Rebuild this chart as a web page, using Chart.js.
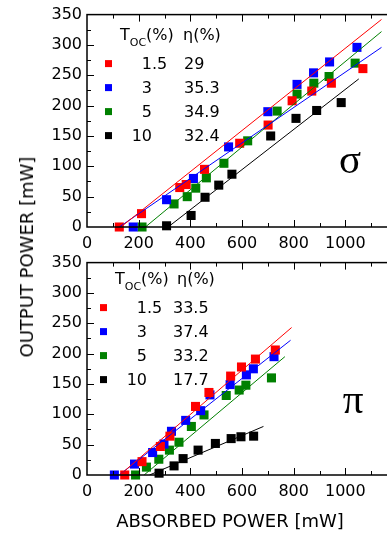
<!DOCTYPE html>
<html>
<head>
<meta charset="utf-8">
<script src="https://cdn.jsdelivr.net/npm/chart.js@4.4.1/dist/chart.umd.min.js"></script>
<style>
    body { margin: 0; width: 387px; height: 536px; overflow: hidden; background: #fff; position: relative; font-family: "DejaVu Sans", sans-serif; }
    canvas { position: absolute; left: 0; }
    #sigma { top: 0; }
    #pi { top: 248px; }
    .axis-title { position: absolute; font-size: 18px; line-height: 1; white-space: nowrap; color: #000; transform: translate(-50%, -50%); }
    #ytitle { left: 27px; top: 257px; transform: translate(-50%, -50%) rotate(-90deg); }
    #xtitle { left: 230px; top: 521px; }
</style>
</head>
<body>
<canvas id="sigma" width="404" height="255"></canvas>
<canvas id="pi" width="404" height="288"></canvas>
<div class="axis-title" id="ytitle">OUTPUT POWER [mW]</div>
<div class="axis-title" id="xtitle">ABSORBED POWER [mW]</div>
<script>
// measured points [absorbed mW, output mW]
const sigmaRed   = [[125,0],[211,22],[359,65],[384,70],[455,95],[591,138],[701,168],[794,208],[870,224],[946,237],[1068,261]];
const sigmaBlue  = [[179,0],[308,45],[412,80],[548,132],[700,190],[813,235],[877,254],[939,272],[1045,296]];
const sigmaGreen = [[213,0],[337,38],[388,50],[421,64],[462,81],[530,105],[622,142],[736,191],[813,219],[878,237],[937,248],[1038,270]];
const sigmaBlack = [[308,2],[403,19],[457,49],[510,69],[561,87],[711,150],[809,179],[889,192],[984,205]];

const piRed   = [[146,0],[213,22],[284,47],[321,64],[420,113],[472,136],[556,163],[598,178],[652,191],[729,206]];
const piBlue  = [[106,0],[184,18],[254,37],[298,51],[327,72],[382,90],[440,106],[476,132],[554,149],[617,165],[644,175],[724,195]];
const piGreen = [[188,0],[230,13],[278,26],[319,41],[356,54],[404,80],[453,99],[539,131],[589,140],[615,148],[714,160]];
const piBlack = [[279,3],[337,15],[372,27],[430,41],[497,52],[558,60],[596,63],[645,64]];

// linear fits, start and end point
const sigmaFitRed   = [[131,0],[1140,342]];
const sigmaFitBlue  = [[125,0],[1140,296]];
const sigmaFitGreen = [[226,0],[1140,322]];
const sigmaFitBlack = [[314,0],[1052,244]];

const piFitRed   = [[127,0],[792,243]];
const piFitBlue  = [[125,0],[788,222]];
const piFitGreen = [[221,0],[766,195]];
const piFitBlack = [[242,0],[683,80]];

const tocValues = ['1.5', '3', '5', '10'];
const sigmaEta  = ['29', '35.3', '34.9', '32.4'];
const piEta     = ['33.5', '37.4', '33.2', '17.7'];
const colors    = ['#ff0000', '#0000ff', '#008000', '#000000'];

const xTicks = [0, 200, 400, 600, 800, 1000];
const yTicks = [0, 50, 100, 150, 200, 250, 300, 350];

const FONT = 'DejaVu Sans';

function toXY(pts) {
    return pts.map(p => ({ x: p[0], y: p[1] }));
}

function makeDatasets(series, fits) {
    const ds = [];
    fits.forEach((f, i) => {
        ds.push({
            data: toXY(f),
            showLine: true,
            borderColor: colors[i],
            borderWidth: 1,
            pointRadius: 0,
        });
    });
    series.forEach((pts, i) => {
        ds.push({
            data: toXY(pts),
            backgroundColor: colors[i],
            pointStyle: 'rect',
            pointRadius: 6.4,
            borderWidth: 0,
            clip: false,
        });
    });
    return ds;
}

// frame with inward ticks on all sides
const frame = {
    id: 'frame',
    afterDatasetsDraw(chart) {
        const { ctx, chartArea: a, scales: { x, y } } = chart;
        ctx.save();
        ctx.strokeStyle = '#000';
        ctx.lineWidth = 1.5;
        ctx.strokeRect(a.left, a.top, a.right - a.left, a.bottom - a.top);
        ctx.lineWidth = 1;
        ctx.beginPath();
        for (let v = 100; v <= 1200; v += 100) {
            const px = Math.round(x.getPixelForValue(v)) + 0.5;
            const len = v % 200 ? 4 : 7;
            ctx.moveTo(px, a.bottom); ctx.lineTo(px, a.bottom - len);
            ctx.moveTo(px, a.top); ctx.lineTo(px, a.top + len);
        }
        for (let v = 25; v < 350; v += 25) {
            const py = Math.round(y.getPixelForValue(v)) + 0.5;
            const len = v % 50 ? 4 : 7;
            ctx.moveTo(a.left, py); ctx.lineTo(a.left + len, py);
            ctx.moveTo(a.right, py); ctx.lineTo(a.right - len, py);
        }
        ctx.stroke();
        ctx.restore();
    }
};

// T_oc / eta table inside the plot, plus the polarisation letter
const table = {
    id: 'table',
    afterDraw(chart, args, o) {
        const { ctx, chartArea: a } = chart;
        ctx.save();
        ctx.fillStyle = '#000';
        ctx.textBaseline = 'alphabetic';
        // header
        let hx = a.left + o.tx;
        const hy = a.top + o.hy;
        ctx.font = '16px "' + FONT + '"';
        ctx.textAlign = 'left';
        ctx.fillText('T', hx, hy);
        hx += ctx.measureText('T').width;
        ctx.font = '11px "' + FONT + '"';
        ctx.fillText('OC', hx, hy + 6);
        hx += ctx.measureText('OC').width;
        ctx.font = '16px "' + FONT + '"';
        ctx.fillText('(%)', hx, hy);
        ctx.fillText('\u03b7(%)', a.left + o.etaHead, hy);
        // rows
        tocValues.forEach((t, i) => {
            const by = a.top + o.row0 + i * 24;
            ctx.fillStyle = colors[i];
            ctx.fillRect(a.left + o.mx - 3.5, by - 9, 7, 7);
            ctx.fillStyle = '#000';
            const parts = t.split('.');
            const ix = a.left + o.intRight;
            ctx.textAlign = 'right';
            ctx.fillText(parts[0], ix, by);
            ctx.textAlign = 'left';
            if (parts[1]) ctx.fillText('.' + parts[1], ix, by);
            ctx.fillText(o.eta[i], a.left + o.etaX, by);
        });
        // sigma / pi
        ctx.font = '41px "Liberation Serif"';
        ctx.textAlign = 'center';
        ctx.fillText(o.letter, a.left + o.lx, a.top + o.ly);
        ctx.restore();
    }
};

function makeChart(id, datasets, xAxisHeight, tableOpts) {
    return new Chart(document.getElementById(id), {
        type: 'scatter',
        data: { datasets: datasets },
        options: {
            responsive: false,
            animation: false,
            layout: { padding: { top: 12, left: 0, right: 0, bottom: 0 }, autoPadding: false },
            plugins: {
                legend: { display: false },
                tooltip: { enabled: false },
                table: tableOpts,
            },
            scales: {
                x: {
                    type: 'linear',
                    min: 0,
                    max: 1200,
                    afterBuildTicks: s => { s.ticks = xTicks.concat([1200]).map(v => ({ value: v })); },
                    afterFit: s => { s.height = xAxisHeight; },
                    grid: { display: false, drawTicks: false },
                    border: { display: false },
                    ticks: {
                        color: '#000',
                        padding: 7,
                        maxRotation: 0,
                        autoSkip: false,
                        font: { family: FONT, size: 16 },
                        callback: v => (v <= 1000 ? v : ''),
                    },
                },
                y: {
                    min: 0,
                    max: 350,
                    afterBuildTicks: s => { s.ticks = yTicks.map(v => ({ value: v })); },
                    afterFit: s => { s.width = 87; },
                    grid: { display: false, drawTicks: false },
                    border: { display: false },
                    ticks: {
                        color: '#000',
                        padding: 5,
                        autoSkip: false,
                        font: { family: FONT, size: 16 },
                    },
                },
            },
        },
        plugins: [frame, table],
    });
}

makeChart('sigma',
    makeDatasets([sigmaRed, sigmaBlue, sigmaGreen, sigmaBlack],
                 [sigmaFitRed, sigmaFitBlue, sigmaFitGreen, sigmaFitBlack]),
    28,
    { tx: 33, hy: 25, etaHead: 96, mx: 21.5, intRight: 65, etaX: 97, row0: 54.5,
      eta: sigmaEta, letter: '\u03c3', lx: 263, ly: 158 });

makeChart('pi',
    makeDatasets([piRed, piBlue, piGreen, piBlack],
                 [piFitRed, piFitBlue, piFitGreen, piFitBlack]),
    61,
    { tx: 28, hy: 21, etaHead: 90, mx: 16.5, intRight: 60, etaX: 86, row0: 50.5,
      eta: piEta, letter: '\u03c0', lx: 266, ly: 150 });
</script>
</body>
</html>
